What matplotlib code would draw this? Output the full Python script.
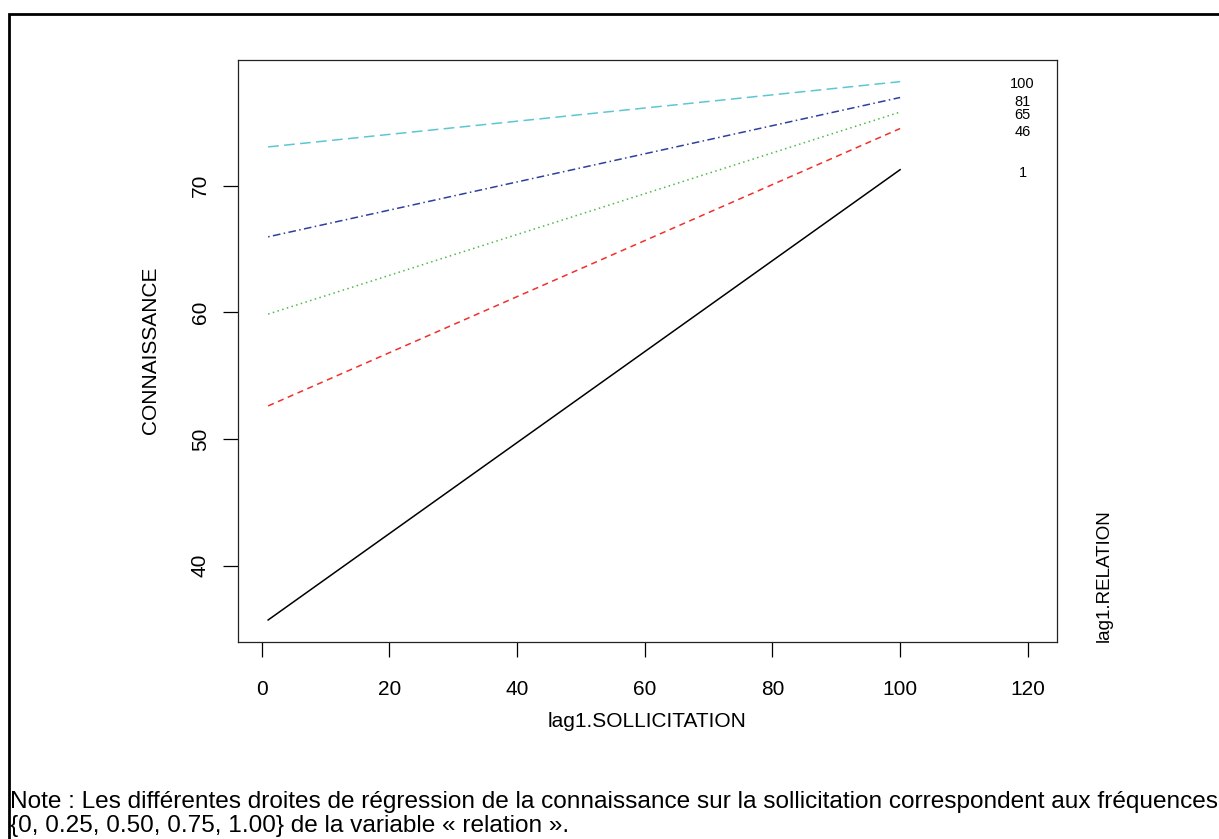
import matplotlib.pyplot as plt
from matplotlib.patches import Rectangle

plt.rcParams['font.family'] = ['Liberation Sans', 'DejaVu Sans']

# Regression lines of CONNAISSANCE on lag1.SOLLICITATION, one per lag1.RELATION level
relation_levels = ["1", "46", "65", "81", "100"]
x_start, x_end = 1, 100
y_start = [35.7, 52.6, 59.85, 65.95, 73.05]
y_end = [71.25, 74.5, 75.8, 76.95, 78.2]
label_x = 119.2
label_y = [71.0, 74.2, 75.6, 76.6, 78.05]

colors = ["black", "#F0302C", "#4DBA4D", "#2E3F9C", "#5CC7D4"]
styles = ["-", (0, (4, 3)), (0, (1, 2.2)), (0, (1, 2.2, 5, 2.2)), (0, (7, 3.5))]

xticks = [0, 20, 40, 60, 80, 100, 120]
yticks = [40, 50, 60, 70]

fig = plt.figure(figsize=(12.19, 8.39), dpi=100)
W, H = 1219, 839
ax = fig.add_axes([237.5 / W, 1 - 641.5 / H, (1056.5 - 237.5) / W, (641.5 - 59.5) / H])

for yl, y0, y1, c, ls in zip(relation_levels, y_start, y_end, colors, styles):
    ax.plot([x_start, x_end], [y0, y1], color=c, linestyle=ls, lw=1.1)

for lab, ly in zip(relation_levels, label_y):
    ax.text(label_x, ly, lab, ha="center", va="center", fontsize=10.5)

ax.set_xlim(-3.8, 124.5)
ax.set_ylim(34.0, 79.95)
ax.set_xticks(xticks)
ax.set_yticks(yticks)
ax.tick_params(length=11, width=0.9, labelsize=15, pad=17)
ax.tick_params(axis="y", pad=9)
for lbl in ax.get_yticklabels():
    lbl.set_rotation(90)
    lbl.set_va("center")
for sp in ax.spines.values():
    sp.set_linewidth(0.9)
    sp.set_color("#222222")

ax.set_xlabel("lag1.SOLLICITATION", fontsize=15, labelpad=9)
ax.set_ylabel("CONNAISSANCE", fontsize=15, labelpad=22)

fig.text(1104 / W, 1 - 642 / H, "lag1.RELATION", rotation=90, ha="center", va="bottom", fontsize=13.5)

# outer frame of the figure (clipped on right and bottom)
fig.patches.append(Rectangle((8.5 / W, -0.1), 1.2, 1 - 14 / H + 0.1, transform=fig.transFigure,
                             fill=False, lw=2, edgecolor="black"))

fig.text(10 / W, 1 - 802 / H,
         "Note : Les différentes droites de régression de la connaissance sur la sollicitation "
         "correspondent aux fréquences",
         ha="left", va="center", fontsize=17.6)
fig.text(10 / W, 1 - 826 / H, "{0, 0.25, 0.50, 0.75, 1.00} de la variable « relation ».",
         ha="left", va="center", fontsize=17.6)

fig.savefig("out.png", dpi=100)
